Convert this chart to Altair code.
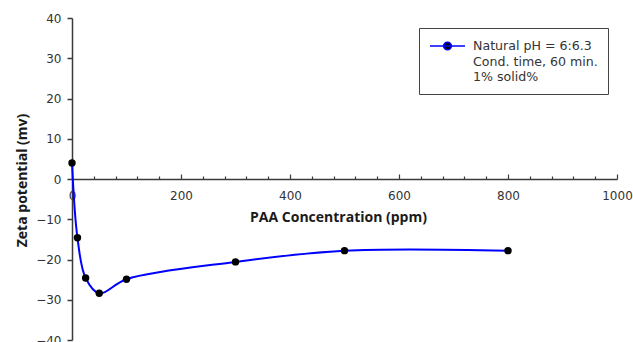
import json
import altair as alt
import pandas as pd

# ---- data ----
conc = [0, 10, 25, 50, 100, 300, 500, 800]
zeta = [4.0, -14.6, -24.6, -28.4, -24.9, -20.6, -17.8, -17.8]
series_name = "Natural pH = 6:6.3"
legend_lines = ["Natural pH = 6:6.3", "Cond. time, 60 min.", "1% solid%"]
x_label_values = [0, 200, 400, 600, 800, 1000]
x_tick_values = [0, 40, 80, 120, 160, 200, 240, 280, 320, 360, 400, 440, 480,
                 520, 560, 600, 640, 680, 720, 760, 800, 840, 880, 920, 960, 1000]
y_tick_values = [-40, -30, -20, -10, 0, 10, 20, 30, 40]
x_title = "PAA Concentration (ppm)"
y_title = "Zeta potential (mv)"

df = pd.DataFrame({"conc": conc, "zeta": zeta, "series": [series_name] * len(conc)})

AX = "#3a3a3a"
LAB = "#333333"
TICK_FONT = "DejaVu Sans"
TITLE_FONT = "Open Sans"

xscale = alt.Scale(domain=[0, 1000], nice=False, zero=False)
yscale = alt.Scale(domain=[-40, 40], nice=False, zero=False)

y_axis = alt.Axis(
    values=y_tick_values, orient="left", grid=False,
    domainColor=AX, domainWidth=1.5, tickColor=AX, tickWidth=1.5, tickSize=5,
    labelPadding=6, labelFont=TICK_FONT, labelFontSize=12, labelColor=LAB,
    title=y_title, titleFont=TITLE_FONT, titleFontWeight="bold", titleFontSize=14,
    titleColor="#1a1a1a", titleAngle=270, titleBaseline="alphabetic",
    titleX=-46, titleY=162,
)

x_label_axis = alt.Axis(
    values=x_label_values, orient="bottom", offset=-161, grid=False, format="d",
    domain=False, ticks=False, tickSize=0, labelPadding=11, labelFlush=False,
    labelFont=TICK_FONT, labelFontSize=12, labelColor=LAB,
    title=x_title, titleFont=TITLE_FONT, titleFontWeight="bold", titleFontSize=14,
    titleColor="#1a1a1a", titleBaseline="alphabetic", titleX=266, titleY=42,
)

x_tick_axis = alt.Axis(
    values=x_tick_values, orient="top", offset=-161, grid=False,
    labels=False, title=None, domainColor=AX, domainWidth=1.5,
    tickColor=AX, tickWidth=1.2,
    tickSize={"condition": {"test": "datum.value % 200 === 0", "value": 5}, "value": 3},
)

# legend symbol: a short blue line with a black dot, 35 px wide, drawn in 7-px units
line_h = 15.5
unit = 7.0
r = 0.55
cx = 1.5
sym_path = (f"M-1,0H4M{cx - r},0A{r},{r},0,1,1,{cx + r},0"
            f"A{r},{r},0,1,1,{cx - r},0Z")

legend = alt.Legend(
    orient="none", legendX=347, legendY=10, title=None,
    labelExpr=json.dumps(legend_lines),
    symbolType=sym_path, symbolSize=(2 * unit) ** 2,
    symbolStrokeColor="blue", symbolFillColor="black", symbolStrokeWidth=1.5,
    labelFont=TICK_FONT, labelFontSize=12.6, labelColor=LAB, labelOffset=28,
    labelLimit=400, padding=10, strokeColor="#444444", fillColor="white",
)

line = alt.Chart(df).mark_line(interpolate="catmull-rom", strokeWidth=2).encode(
    x=alt.X("conc:Q", scale=xscale, axis=x_label_axis),
    y=alt.Y("zeta:Q", scale=yscale, axis=y_axis),
    color=alt.Color("series:N", scale=alt.Scale(domain=[series_name], range=["blue"]),
                    legend=legend),
)

points = alt.Chart(df).mark_point(filled=True, color="black", size=55, opacity=1).encode(
    x=alt.X("conc:Q", scale=xscale, axis=x_tick_axis),
    y=alt.Y("zeta:Q", scale=yscale, axis=y_axis),
)

chart = (
    alt.layer(line, points)
    .resolve_axis(x="independent")
    .properties(
        width=545, height=322,
        autosize=alt.AutoSizeParams(type="none"),
        padding={"left": 72, "top": 18, "right": 16, "bottom": 2},
        background="white",
    )
    .configure(style={"guide-label": {"lineHeight": line_h}})
    .configure_view(stroke=None)
)

chart.save("out.html", embed_options={"renderer": "svg", "actions": False})
